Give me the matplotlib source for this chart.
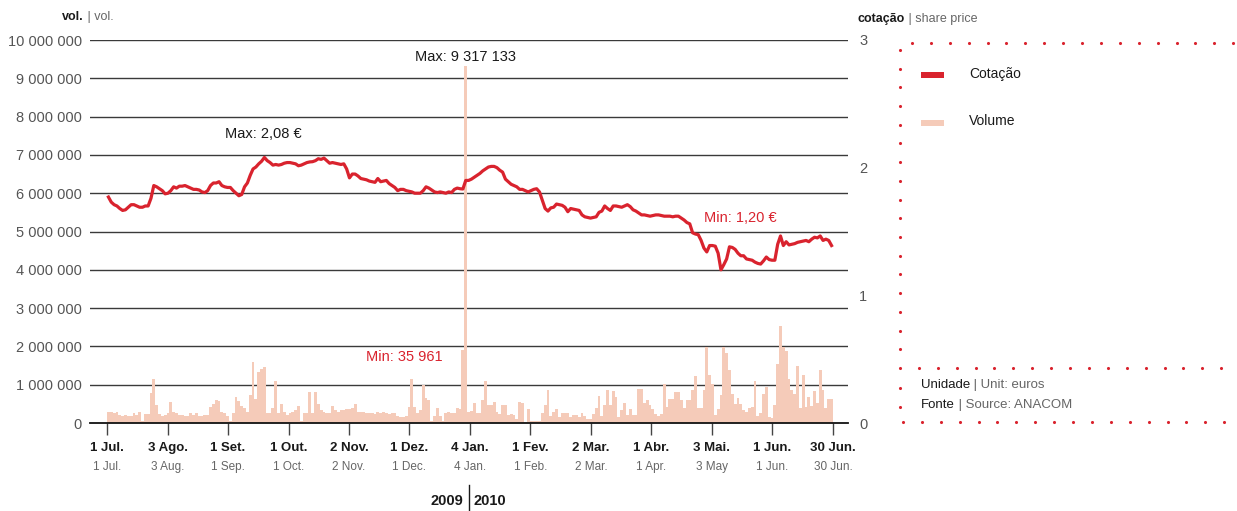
import matplotlib

matplotlib.use("Agg")
import matplotlib.pyplot as plt  # noqa: E402
import matplotlib.transforms as mtransforms  # noqa: E402
import numpy as np  # noqa: E402

plt.rcParams["font.family"] = ["Liberation Sans", "DejaVu Sans"]

RED = "#d9232e"
SALMON = "#f5cbb9"
GREY = "#666666"
DARK = "#1a1a1a"

# daily share price (euros), 1 Jul 2009 - 30 Jun 2010
price = [
    1.77, 1.73, 1.71, 1.70, 1.68, 1.665, 1.67, 1.69, 1.71, 1.71,
    1.70, 1.69, 1.69, 1.70, 1.70, 1.76, 1.86, 1.85, 1.835, 1.82,
    1.795, 1.80, 1.82, 1.85, 1.84, 1.855, 1.855, 1.86, 1.85, 1.84,
    1.83, 1.83, 1.825, 1.81, 1.805, 1.82, 1.86, 1.88, 1.88, 1.89,
    1.86, 1.85, 1.845, 1.845, 1.82, 1.80, 1.78, 1.79, 1.85, 1.88,
    1.94, 1.99, 2.005, 2.03, 2.05, 2.08, 2.055, 2.04, 2.02, 2.025,
    2.02, 2.025, 2.035, 2.04, 2.04, 2.035, 2.03, 2.015, 2.02, 2.03,
    2.04, 2.045, 2.047, 2.055, 2.07, 2.065, 2.075, 2.055, 2.035, 2.04,
    2.035, 2.03, 2.025, 2.03, 1.99, 1.92, 1.95, 1.95, 1.935, 1.915,
    1.91, 1.905, 1.895, 1.89, 1.885, 1.915, 1.89, 1.895, 1.90, 1.875,
    1.86, 1.845, 1.82, 1.83, 1.83, 1.82, 1.815, 1.81, 1.80, 1.80,
    1.80, 1.82, 1.85, 1.84, 1.825, 1.81, 1.805, 1.81, 1.805, 1.80,
    1.81, 1.805, 1.83, 1.84, 1.835, 1.833, 1.90, 1.90, 1.91, 1.925,
    1.94, 1.955, 1.975, 1.99, 2.005, 2.01, 2.01, 2.00, 1.98, 1.965,
    1.91, 1.89, 1.87, 1.86, 1.85, 1.83, 1.83, 1.82, 1.81, 1.82,
    1.83, 1.835, 1.81, 1.745, 1.68, 1.66, 1.685, 1.69, 1.715, 1.71,
    1.705, 1.69, 1.655, 1.68, 1.675, 1.67, 1.665, 1.63, 1.615, 1.61,
    1.605, 1.61, 1.615, 1.65, 1.66, 1.70, 1.68, 1.665, 1.70, 1.70,
    1.695, 1.69, 1.70, 1.71, 1.695, 1.67, 1.66, 1.645, 1.63, 1.63,
    1.625, 1.62, 1.625, 1.63, 1.63, 1.625, 1.62, 1.62, 1.62, 1.615,
    1.62, 1.62, 1.605, 1.59, 1.57, 1.56, 1.49, 1.48, 1.475, 1.43,
    1.37, 1.34, 1.39, 1.39, 1.385, 1.33, 1.20, 1.24, 1.285, 1.38,
    1.375, 1.36, 1.33, 1.31, 1.31, 1.285, 1.28, 1.275, 1.26, 1.25,
    1.245, 1.27, 1.30, 1.28, 1.275, 1.275, 1.40, 1.465, 1.39, 1.42,
    1.395, 1.40, 1.405, 1.415, 1.42, 1.425, 1.43, 1.42, 1.44, 1.455,
    1.45, 1.465, 1.43, 1.44, 1.43, 1.39,
]

# daily traded volume (millions of shares)
volume_m = [
    0.29, 0.29, 0.25, 0.29, 0.20, 0.18, 0.22, 0.18, 0.18, 0.25,
    0.22, 0.30, 0.04, 0.24, 0.24, 0.78, 1.14, 0.47, 0.24, 0.18,
    0.20, 0.27, 0.55, 0.30, 0.25, 0.22, 0.20, 0.18, 0.18, 0.26,
    0.20, 0.25, 0.18, 0.18, 0.20, 0.22, 0.41, 0.50, 0.60, 0.58,
    0.29, 0.25, 0.18, 0.05, 0.27, 0.68, 0.58, 0.45, 0.38, 0.30,
    0.72, 1.59, 0.63, 1.32, 1.40, 1.45, 0.27, 0.27, 0.40, 1.10,
    0.25, 0.50, 0.30, 0.22, 0.25, 0.30, 0.35, 0.45, 0.05, 0.27,
    0.27, 0.81, 0.27, 0.81, 0.50, 0.35, 0.28, 0.27, 0.25, 0.45,
    0.35, 0.30, 0.35, 0.35, 0.37, 0.37, 0.38, 0.50, 0.30, 0.30,
    0.29, 0.25, 0.25, 0.25, 0.24, 0.29, 0.25, 0.29, 0.25, 0.24,
    0.27, 0.27, 0.17, 0.16, 0.15, 0.17, 0.41, 1.14, 0.41, 0.25,
    0.35, 0.98, 0.64, 0.60, 0.04, 0.17, 0.39, 0.17, 0.05, 0.25,
    0.29, 0.27, 0.27, 0.39, 0.37, 1.91, 9.317133, 0.30, 0.32, 0.51,
    0.25, 0.27, 0.60, 1.10, 0.46, 0.46, 0.55, 0.29, 0.23, 0.47,
    0.47, 0.20, 0.23, 0.20, 0.11, 0.55, 0.53, 0.035961, 0.37, 0.05,
    0.04, 0.04, 0.04, 0.25, 0.47, 0.86, 0.18, 0.30, 0.36, 0.16,
    0.27, 0.27, 0.25, 0.16, 0.20, 0.20, 0.16, 0.25, 0.18, 0.10,
    0.10, 0.23, 0.39, 0.70, 0.18, 0.47, 0.86, 0.47, 0.83, 0.67,
    0.16, 0.34, 0.52, 0.20, 0.37, 0.20, 0.20, 0.89, 0.89, 0.51,
    0.60, 0.46, 0.36, 0.23, 0.18, 0.23, 1.02, 0.41, 0.62, 0.62,
    0.81, 0.81, 0.60, 0.38, 0.60, 0.60, 0.86, 1.23, 0.38, 0.38,
    0.86, 1.99, 1.26, 1.02, 0.20, 0.37, 0.73, 1.98, 1.84, 1.39,
    0.76, 0.50, 0.65, 0.50, 0.34, 0.30, 0.39, 0.41, 1.10, 0.18,
    0.26, 0.76, 0.93, 0.15, 0.14, 0.47, 1.54, 2.53, 1.98, 1.89,
    1.15, 0.86, 0.76, 1.49, 0.39, 1.25, 0.43, 0.69, 0.45, 0.83,
    0.53, 1.39, 0.86, 0.39, 0.62, 0.62,
]

tick_pt = ["1 Jul.", "3 Ago.", "1 Set.", "1 Out.", "2 Nov.", "1 Dez.", "4 Jan.",
           "1 Fev.", "2 Mar.", "1 Abr.", "3 Mai.", "1 Jun.", "30 Jun."]
tick_en = ["1 Jul.", "3 Aug.", "1 Sep.", "1 Oct.", "2 Nov.", "1 Dec.", "4 Jan.",
           "1 Feb.", "2 Mar.", "1 Apr.", "3 May", "1 Jun.", "30 Jun."]
vol_ticks = [0, 1_000_000, 2_000_000, 3_000_000, 4_000_000, 5_000_000,
             6_000_000, 7_000_000, 8_000_000, 9_000_000, 10_000_000]
price_ticks = [0, 1, 2, 3]

n_days = len(price)
days = np.arange(n_days)
volume = np.array(volume_m) * 1_000_000

W, H = 1237, 511
fig = plt.figure(figsize=(W / 100, H / 100), dpi=100)
ax = fig.add_axes([90 / W, 88 / H, 758 / W, 383 / H])
ax2 = ax.twinx()

# volume bars
ax.bar(days, volume, width=1.0, align="edge", color=SALMON, linewidth=0, zorder=2)
ax.set_ylim(0, 10_000_000)
ax.set_xlim(-6.0, n_days + 5.3)
ax.set_yticks(vol_ticks)
ax.set_yticklabels([f"{v:,}".replace(",", " ") for v in vol_ticks], color="#555555", fontsize=10.5)
ax.tick_params(axis="y", length=0, pad=6)
for v in vol_ticks[1:]:
    ax.axhline(v, color="#3a3a3a", lw=1.0, zorder=1)
for side in ["top", "left", "right"]:
    ax.spines[side].set_visible(False)
ax.spines["bottom"].set_color("#111111")
ax.spines["bottom"].set_linewidth(1.3)
ax.spines["bottom"].set_zorder(3)

tick_pos = np.linspace(0, n_days, len(tick_pt))
ax.set_xticks(tick_pos)
ax.set_xticklabels(tick_pt, fontsize=9.5, fontweight="bold", color=DARK)
ax.tick_params(axis="x", length=8.5, width=1.0, color="#444444", pad=5)
trans = mtransforms.blended_transform_factory(ax.transData, ax.transAxes)
for x, lab in zip(tick_pos, tick_en):
    ax.text(x, -0.114, lab, transform=trans, ha="center", va="center", fontsize=8.5, color=GREY)

# share price line
ax2.plot(days + 0.5, price, color=RED, lw=2.3, solid_joinstyle="round", zorder=4)
ax2.set_ylim(0, 3)
ax2.set_yticks(price_ticks)
ax2.set_yticklabels([str(p) for p in price_ticks], color="#555555", fontsize=10.5)
ax2.tick_params(axis="y", length=0, pad=8)
for side in ["top", "left", "right", "bottom"]:
    ax2.spines[side].set_visible(False)

# annotations
i_max_vol = int(np.argmax(volume))
ax.text(i_max_vol + 0.5, 9_560_000, "Max: 9 317 133", ha="center", va="center", fontsize=10.5, color=DARK, zorder=5)
ax.text(55, 7_550_000, "Max: 2,08 €", ha="center", va="center", fontsize=10.5, color=DARK, zorder=5)
ax.text(104.7, 1_720_000, "Min: 35 961", ha="center", va="center", fontsize=10.5, color=RED, zorder=5)
ax.text(223.2, 5_350_000, "Min: 1,20 €", ha="center", va="center", fontsize=10.5, color=RED, zorder=5)

# overlay in pixel coordinates for headers, legend panel and years
ov = fig.add_axes([0, 0, 1, 1])
ov.set_xlim(0, W)
ov.set_ylim(H, 0)
ov.set_axis_off()

renderer = fig.canvas.get_renderer()


def pieces(x, y, parts, size):
    # write text pieces one after another on the same baseline
    for text, color, weight in parts:
        t = ov.text(x, y, text, ha="left", va="center", fontsize=size, color=color, fontweight=weight)
        bb = t.get_window_extent(renderer)
        x += bb.width


pieces(62, 17, [("vol.", DARK, "bold"), (" | vol.", GREY, "normal")], 9)
pieces(858, 19, [("cotação", DARK, "bold"), (" | share price", GREY, "normal")], 9)
pieces(921, 385, [("Unidade", DARK, "normal"), (" | Unit: euros", GREY, "normal")], 9.5)
pieces(921, 405, [("Fonte", DARK, "normal"), (" | Source: ANACOM", GREY, "normal")], 9.5)

# dotted panel frame
dot_kw = dict(s=5, color=RED, linewidths=0)
top_x = np.arange(912, W, 18.9)
ov.scatter(top_x, np.full_like(top_x, 43), **dot_kw)
left_y = np.arange(50, 360, 18.7)
ov.scatter(np.full_like(left_y, 900), left_y, **dot_kw)
mid_x = np.arange(900, W, 18.9)
ov.scatter(mid_x, np.full_like(mid_x, 368), **dot_kw)
low_y = np.arange(388, 415, 18.7)
ov.scatter(np.full_like(low_y, 900), low_y, **dot_kw)
bot_x = np.arange(903, W, 18.9)
ov.scatter(bot_x, np.full_like(bot_x, 422), **dot_kw)

# legend
ov.add_patch(plt.Rectangle((921, 72.5), 23, 5.5, color=RED, lw=0))
ov.text(969, 74, "Cotação", ha="left", va="center", fontsize=10, color=DARK)
ov.add_patch(plt.Rectangle((921, 120), 23, 6, color=SALMON, lw=0))
ov.text(969, 121, "Volume", ha="left", va="center", fontsize=10, color=DARK)

# year split
ov.text(463, 501, "2009", ha="right", va="center", fontsize=10.5, fontweight="bold", color=DARK)
ov.text(474, 501, "2010", ha="left", va="center", fontsize=10.5, fontweight="bold", color=DARK)
ov.plot([468.5, 468.5], [485, 510], color=DARK, lw=1.0)

fig.savefig("out.png", dpi=100)
